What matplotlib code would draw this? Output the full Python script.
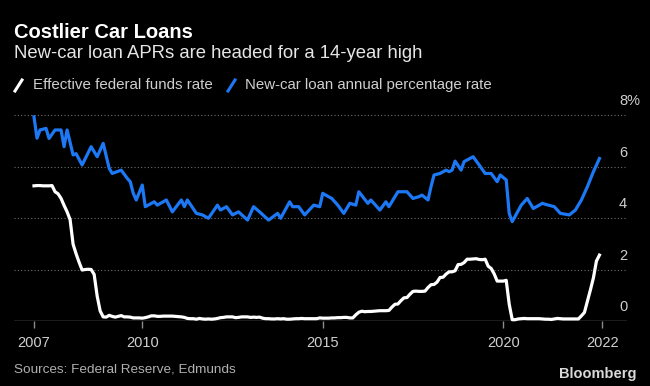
import numpy as np
import pandas as pd
import matplotlib.pyplot as plt
from matplotlib.lines import Line2D

plt.rcParams['font.family'] = ['Liberation Sans', 'DejaVu Sans']

# effective federal funds rate, monthly from Jan 2007
fed_funds = [
    5.25, 5.26, 5.26, 5.25, 5.25, 5.25, 5.26, 5.02, 4.94, 4.76, 4.49, 4.24,
    3.94, 2.98, 2.61, 2.28, 1.98, 2.00, 2.01, 2.00, 1.81, 0.97, 0.39, 0.16,
    0.15, 0.22, 0.18, 0.15, 0.18, 0.21, 0.16, 0.16, 0.15, 0.12, 0.12, 0.12,
    0.11, 0.13, 0.16, 0.20, 0.20, 0.18, 0.18, 0.19, 0.19, 0.19, 0.19, 0.18,
    0.17, 0.16, 0.14, 0.10, 0.09, 0.09, 0.07, 0.10, 0.08, 0.07, 0.08, 0.07,
    0.08, 0.10, 0.13, 0.14, 0.16, 0.16, 0.16, 0.13, 0.14, 0.16, 0.16, 0.16,
    0.14, 0.15, 0.14, 0.15, 0.11, 0.09, 0.09, 0.08, 0.08, 0.09, 0.08, 0.09,
    0.07, 0.07, 0.08, 0.09, 0.09, 0.10, 0.09, 0.09, 0.09, 0.09, 0.09, 0.12,
    0.11, 0.11, 0.11, 0.12, 0.12, 0.13, 0.13, 0.14, 0.14, 0.12, 0.12, 0.24,
    0.34, 0.38, 0.36, 0.37, 0.37, 0.38, 0.39, 0.40, 0.40, 0.40, 0.41, 0.54,
    0.65, 0.66, 0.79, 0.90, 0.91, 1.04, 1.15, 1.16, 1.15, 1.15, 1.16, 1.30,
    1.41, 1.42, 1.51, 1.69, 1.70, 1.82, 1.91, 1.91, 1.95, 2.19, 2.20, 2.27,
    2.40, 2.40, 2.41, 2.42, 2.39, 2.38, 2.40, 2.13, 2.04, 1.83, 1.55, 1.55,
    1.55, 1.58, 0.65, 0.05, 0.05, 0.08, 0.09, 0.10, 0.09, 0.09, 0.09, 0.09,
    0.09, 0.08, 0.07, 0.07, 0.06, 0.08, 0.10, 0.09, 0.08, 0.08, 0.08, 0.08,
    0.08, 0.08, 0.20, 0.33, 0.77, 1.21, 1.68, 2.33, 2.56,
]
ff_dates = pd.date_range("2007-01-01", periods=len(fed_funds), freq="MS")

# new-car loan APR
apr_dates = [
    "2007-01", "2007-02", "2007-03", "2007-05", "2007-06", "2007-08", "2007-10",
    "2007-11", "2007-12", "2008-02", "2008-03", "2008-05", "2008-08", "2008-10",
    "2008-12", "2009-02", "2009-03", "2009-06", "2009-08", "2009-09", "2009-10",
    "2009-11", "2010-01", "2010-02", "2010-05", "2010-06", "2010-09", "2010-11",
    "2011-02", "2011-03", "2011-04", "2011-07", "2011-09", "2011-11", "2012-02",
    "2012-03", "2012-05", "2012-07", "2012-09", "2012-12", "2013-02", "2013-04",
    "2013-07", "2013-10", "2013-11", "2014-02", "2014-03", "2014-05", "2014-07",
    "2014-10", "2014-12", "2015-01", "2015-02", "2015-04", "2015-06", "2015-08",
    "2015-10", "2015-12", "2016-01", "2016-04", "2016-05", "2016-08", "2016-10",
    "2016-11", "2017-02", "2017-05", "2017-07", "2017-09", "2017-10", "2017-12",
    "2018-01", "2018-02", "2018-04", "2018-06", "2018-07", "2018-08", "2018-09",
    "2018-11", "2018-12", "2019-03", "2019-05", "2019-07", "2019-09", "2019-11",
    "2019-12", "2020-02", "2020-03", "2020-04", "2020-07", "2020-09", "2020-11",
    "2021-01", "2021-02", "2021-04", "2021-06", "2021-08", "2021-11", "2022-01",
    "2022-03", "2022-05", "2022-07", "2022-09",
]
apr_rate = [
    7.93, 7.10, 7.42, 7.48, 7.09, 7.42, 7.42,
    6.77, 7.42, 6.45, 6.50, 6.06, 6.77, 6.38,
    6.90, 5.93, 5.73, 5.86, 5.54, 5.41, 4.96,
    4.70, 5.28, 4.44, 4.63, 4.50, 4.70, 4.24,
    4.70, 4.44, 4.70, 4.18, 4.12, 3.99, 4.50,
    4.31, 4.44, 4.12, 4.24, 3.92, 4.44, 4.24,
    3.92, 4.18, 3.99, 4.63, 4.44, 4.44, 4.12,
    4.50, 4.44, 4.96, 4.89, 4.76, 4.50, 4.18,
    4.57, 4.50, 5.02, 4.57, 4.70, 4.31, 4.63,
    4.44, 5.02, 5.02, 4.76, 4.83, 4.89, 4.70,
    5.22, 5.67, 5.73, 5.86, 5.80, 5.86, 6.21,
    5.86, 6.19, 6.38, 6.06, 5.73, 5.73, 5.41,
    5.67, 5.48, 4.18, 3.86, 4.50, 4.76, 4.37,
    4.50, 4.57, 4.50, 4.44, 4.18, 4.12, 4.31,
    4.70, 5.22, 5.80, 6.31,
]

year_ticks = [2007, 2010, 2015, 2020, 2022.75]
year_labels = ["2007", "2010", "2015", "2020", "2022"]
y_levels = [0, 2, 4, 6, 8]


def to_year(d):
    d = pd.to_datetime(d)
    return np.asarray(d.year + (d.month - 1) / 12.0)


blue = '#1c78f4'
grey = '#8c8c8c'

fig = plt.figure(figsize=(6.5, 3.86), dpi=100, facecolor='black')
ax = fig.add_axes([14/650, 1-321/386, 613/650, (321-107.3)/386])
ax.set_facecolor('black')

for v in y_levels[1:]:
    ax.axhline(v, color='#6e6e6e', lw=0.8, ls=(0, (1, 2)), zorder=1)
ax.axhline(0, color=grey, lw=1, zorder=1)

ax.plot(to_year(ff_dates), fed_funds, color='white', lw=2.3, clip_on=False,
        solid_joinstyle='round', zorder=3)
ax.plot(to_year(apr_dates), apr_rate, color=blue, lw=2.3, clip_on=False,
        solid_joinstyle='round', zorder=3)

ax.set_xlim(2006.446, 2023.43)
ax.set_ylim(0, 8.3)
for s in ax.spines.values():
    s.set_visible(False)
ax.set_yticks([])
ax.set_xticks(year_ticks)
ax.set_xticklabels(year_labels)
ax.tick_params(axis='x', length=5, width=1, color=grey, labelcolor='#cfcfcf',
               labelsize=10.5, pad=6)

for v in y_levels:
    lab = '8%' if v == 8 else str(v)
    ax.annotate(lab, xy=(0.987, v), xycoords=('axes fraction', 'data'),
                xytext=(0, 10), textcoords='offset points', va='center',
                ha='left', color='#cfcfcf', fontsize=10.5, annotation_clip=False)

fig.text(14/650, 1-38/386, "Costlier Car Loans", color='white', fontsize=14.5,
         fontweight='bold', va='baseline')
fig.text(14/650, 1-58/386, "New-car loan APRs are headed for a 14-year high",
         color='#e6e6e6', fontsize=13.3, va='baseline')

fig.add_artist(Line2D([15/650, 22/650], [1-91/386, 1-80/386], color='white',
                      lw=2.2, transform=fig.transFigure))
fig.text(33/650, 1-89/386, "Effective federal funds rate", color='#cfcfcf',
         fontsize=10.9, va='baseline')
fig.add_artist(Line2D([228/650, 235/650], [1-91/386, 1-80/386], color=blue,
                      lw=2.2, transform=fig.transFigure))
fig.text(245/650, 1-89/386, "New-car loan annual percentage rate",
         color='#cfcfcf', fontsize=10.85, va='baseline')

fig.text(14/650, 1-372/386, "Sources: Federal Reserve, Edmunds", color='#b0b0b0',
         fontsize=9.7, va='baseline')
fig.text(636/650, 1-378/386, "Bloomberg", color='#d9d9d9', fontsize=10.5,
         fontweight='bold', ha='right', va='baseline')

fig.savefig('out.png', dpi=100, facecolor='black')
